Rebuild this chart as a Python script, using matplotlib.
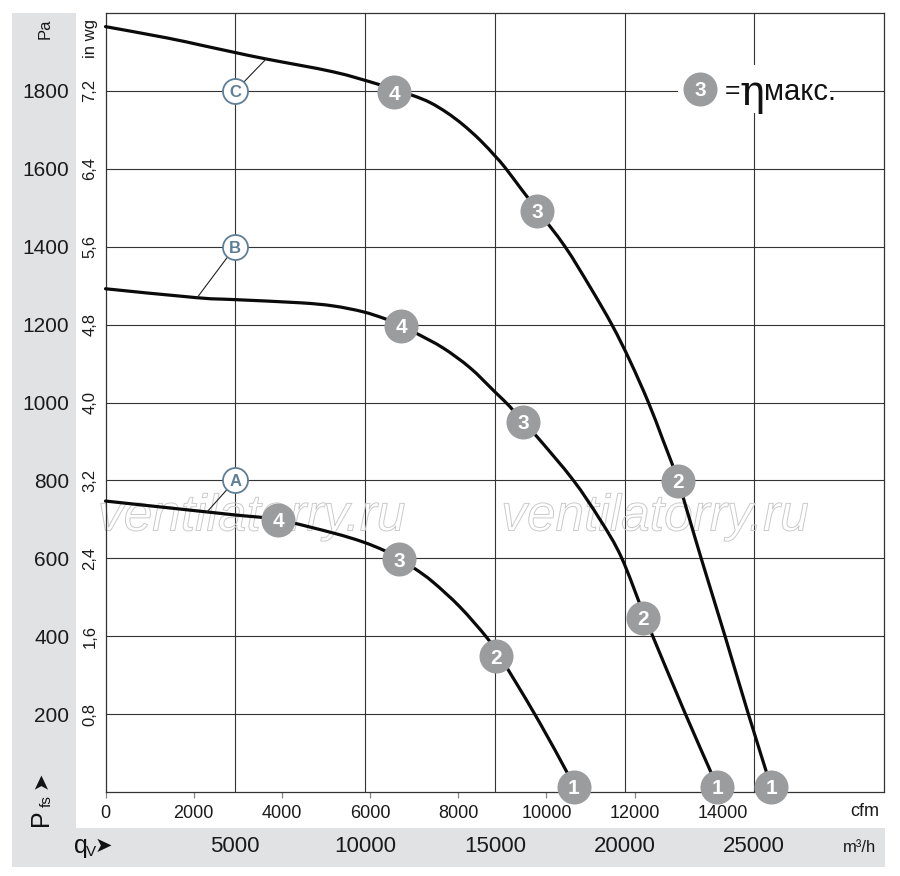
import matplotlib
matplotlib.use("Agg")
import matplotlib.pyplot as plt
from matplotlib.patches import Rectangle, PathPatch
from matplotlib.path import Path
from matplotlib.transforms import blended_transform_factory
import matplotlib.patheffects as pe

plt.rcParams['font.family'] = ['Liberation Sans Narrow', 'Liberation Sans', 'DejaVu Sans']

# ---------------- data (x in m3/h, y in Pa) ----------------
C_q = [0, 2370, 3640, 5030, 6190, 8770, 10460, 11810, 12510, 13160, 13780, 14430,
       15010, 15400, 16010, 16630, 17710, 18670, 19520, 20210, 20910, 21480, 22060,
       22950, 23870, 24760, 25650]
C_p = [1965, 1936, 1918, 1898, 1882, 1849, 1818, 1789, 1770, 1744, 1713, 1674,
       1633, 1603, 1549, 1495, 1400, 1297, 1199, 1107, 1002, 904, 799,
       601, 401, 203, 13]

B_q = [0, 3530, 5030, 7500, 8770, 9920, 10770, 11470, 12000, 13010, 14050, 15010,
       15590, 16090, 16630, 18020, 19060, 19870, 20710, 21020, 22330, 23330, 23570]
B_p = [1292, 1269, 1264, 1256, 1248, 1233, 1215, 1196, 1177, 1140, 1089, 1027,
       989, 950, 912, 801, 699, 604, 462, 411, 203, 51, 13]

A_q = [0, 3910, 5030, 6650, 8770, 9920, 10770, 11310, 11930, 12620, 13660, 14700,
       15200, 15780, 16740, 17780, 18050]
A_p = [747, 719, 711, 699, 665, 642, 619, 598, 573, 539, 475, 396,
       347, 285, 177, 51, 13]

# operating points 4,3,2,1 on each curve
op_labels = ['4', '3', '2', '1']
C_op_q = [11120, 16630, 22060, 25650]
C_op_p = [1797, 1492, 799, 13]
B_op_q = [11400, 16090, 20710, 23570]
B_op_p = [1197, 950, 447, 13]
A_op_q = [6650, 11310, 15050, 18050]
A_op_p = [699, 598, 349, 13]

# curve letter markers and leader-line targets
curve_names = ['A', 'B', 'C']
letter_q = [5000, 5000, 5000]
letter_p = [800, 1400, 1800]
leader_q = [3910, 3530, 6190]
leader_p = [719, 1269, 1882]

pa_ticks = [200, 400, 600, 800, 1000, 1200, 1400, 1600, 1800]
inwg_labels = ['0,8', '1,6', '2,4', '3,2', '4,0', '4,8', '5,6', '6,4', '7,2']
cfm_ticks = [0, 2000, 4000, 6000, 8000, 10000, 12000, 14000]
m3h_ticks = [5000, 10000, 15000, 20000, 25000]
CFM_TO_M3H = 1.69901

legend_q, legend_p = 22910, 1805

# ---------------- figure ----------------
W, H = 900, 876
fig = plt.figure(figsize=(W / 100, H / 100), dpi=100)


def fx(px):
    return px / W


def fy(py):
    return 1 - py / H


gray = '#e1e2e4'
fig.patches.append(Rectangle((fx(12), fy(867)), fx(76) - fx(12), (867 - 13) / H,
                             transform=fig.transFigure, facecolor=gray, edgecolor='none', zorder=-5))
fig.patches.append(Rectangle((fx(12), fy(867)), fx(885) - fx(12), (867 - 828) / H,
                             transform=fig.transFigure, facecolor=gray, edgecolor='none', zorder=-5))

ax_l, ax_r, ax_t, ax_b = 105.5, 884, 13, 792
ax = fig.add_axes([fx(ax_l), fy(ax_b), (ax_r - ax_l) / W, (ax_b - ax_t) / H])
ax.set_xlim(0, 30000)
ax.set_ylim(0, 2000)
for s in ax.spines.values():
    s.set_color('#333333')
    s.set_linewidth(0.9)

ax.set_yticks(pa_ticks)
ax.set_yticklabels([str(v) for v in pa_ticks], fontsize=15, color='#1a1a1a')
ax.tick_params(axis='y', length=0, pad=26)

ax.set_xticks([c * CFM_TO_M3H for c in cfm_ticks])
ax.set_xticklabels([str(c) for c in cfm_ticks], fontsize=13, color='#1a1a1a')
ax.tick_params(axis='x', which='major', length=4.5, width=0.9, color='#888888', pad=5)
ax.set_xticks(m3h_ticks, minor=True)
ax.tick_params(axis='x', which='minor', length=0)

ax.set_axisbelow(True)
ax.grid(axis='y', which='major', color='#333333', linewidth=0.8)
ax.grid(axis='x', which='minor', color='#333333', linewidth=0.8)

# in wg labels
tr_ay = blended_transform_factory(ax.transAxes, ax.transData)
x_inwg = (90 - ax_l) / (ax_r - ax_l)
for v, lab in zip(pa_ticks, inwg_labels):
    ax.text(x_inwg, v, lab, rotation=90, ha='center', va='center', fontsize=12,
            color='#1a1a1a', transform=tr_ay, clip_on=False)

fig.text(fx(45), fy(29), 'Pa', rotation=90, ha='center', va='center', fontsize=12, color='#1a1a1a')
fig.text(fx(90), fy(39), 'in wg', rotation=90, ha='center', va='center', fontsize=12, color='#1a1a1a')

# m3/h labels in bottom band
tr_xf = blended_transform_factory(ax.transData, fig.transFigure)
for v in m3h_ticks:
    ax.text(v, fy(847), str(v), ha='center', va='center', fontsize=16, color='#1a1a1a',
            transform=tr_xf, clip_on=False)
fig.text(fx(865), fy(812), 'cfm', ha='center', va='center', fontsize=13, color='#1a1a1a')
fig.text(fx(860), fy(847), 'm³/h', ha='center', va='center', fontsize=12, color='#1a1a1a')

# q_V arrow label
fig.text(fx(74), fy(846), 'q', ha='left', va='center', fontsize=18, color='#111111')
fig.text(fx(86), fy(852), 'V', ha='left', va='center', fontsize=11, color='#111111')
fig.text(fx(95), fy(846), '➤', ha='left', va='center', fontsize=15, color='#111111',
         family='DejaVu Sans')
# P_fs arrow label
fig.text(fx(41), fy(818), 'P', rotation=90, ha='center', va='center', fontsize=18, color='#111111')
fig.text(fx(47), fy(801), 'fs', rotation=90, ha='center', va='center', fontsize=11, color='#111111')
fig.text(fx(41), fy(780), '➤', rotation=90, ha='center', va='center', fontsize=15, color='#111111',
         family='DejaVu Sans')

# watermark (outlined)
for xf in [0.188, 0.706]:
    ax.text(xf, 0.353, 'ventilatorry.ru', transform=ax.transAxes, ha='center', va='center',
            fontsize=37, style='italic', family=['Liberation Sans', 'DejaVu Sans'],
            color=(1, 1, 1, 0), zorder=1.2,
            path_effects=[pe.Stroke(linewidth=0.7, foreground='#cacaca')])


def smooth_path(xs, ys):
    """Catmull-Rom curve through the given points, as cubic Bezier segments."""
    pts = list(zip(xs, ys))
    n = len(pts)
    verts = [pts[0]]
    codes = [Path.MOVETO]
    for i in range(n - 1):
        p0 = pts[i - 1] if i > 0 else pts[i]
        p1 = pts[i]
        p2 = pts[i + 1]
        p3 = pts[i + 2] if i + 2 < n else pts[i + 1]
        c1 = (p1[0] + (p2[0] - p0[0]) / 6.0, p1[1] + (p2[1] - p0[1]) / 6.0)
        c2 = (p2[0] - (p3[0] - p1[0]) / 6.0, p2[1] - (p3[1] - p1[1]) / 6.0)
        verts += [c1, c2, p2]
        codes += [Path.CURVE4, Path.CURVE4, Path.CURVE4]
    return Path(verts, codes)


# curves
for q, p in [(A_q, A_p), (B_q, B_p), (C_q, C_p)]:
    patch = PathPatch(smooth_path(q, p), facecolor='none', edgecolor='#0a0a0a',
                      linewidth=2.3, capstyle='round', joinstyle='round', zorder=3,
                      transform=ax.transData)
    patch.set_clip_on(False)
    ax.add_patch(patch)

# leader lines + letter circles
for name, lq, lp, tq, tp in zip(curve_names, letter_q, letter_p, leader_q, leader_p):
    ax.plot([lq, tq], [lp, tp], color='#222222', linewidth=0.8, zorder=3)
    ax.plot([lq], [lp], marker='o', markersize=18, markerfacecolor='white',
            markeredgecolor='#5e7f98', markeredgewidth=1.3, zorder=4, linestyle='none')
    ax.text(lq, lp, name, ha='center', va='center_baseline', fontsize=12, fontweight='bold',
            color='#5e7f98', zorder=5)

# operating point bubbles
bubble_col = '#9b9c9e'
for oq, op in [(A_op_q, A_op_p), (B_op_q, B_op_p), (C_op_q, C_op_p)]:
    ax.plot(oq, op, marker='o', markersize=24.5, markerfacecolor=bubble_col,
            markeredgecolor='none', linestyle='none', zorder=6, clip_on=False)
    for lab, q, p in zip(op_labels, oq, op):
        ax.text(q, p, lab, ha='center', va='center_baseline', fontsize=15, fontweight='bold',
                color='white', zorder=7, clip_on=False)

# legend "3 = eta max"
ax.add_patch(Rectangle((22060, 1744), 27920 - 22060, 1867 - 1744, facecolor='white',
                       edgecolor='none', zorder=1.5))
ax.plot([legend_q], [legend_p], marker='o', markersize=24.5, markerfacecolor=bubble_col,
        markeredgecolor='none', linestyle='none', zorder=6)
ax.text(legend_q, legend_p, '3', ha='center', va='center_baseline', fontsize=15,
        fontweight='bold', color='white', zorder=7)
tr_pix = blended_transform_factory(fig.transFigure, ax.transData)
ax.text(fx(725), legend_p, '=', transform=tr_pix, ha='left', va='center_baseline',
        fontsize=19, color='#111111', zorder=7)
ax.text(fx(739), legend_p, 'η', transform=tr_pix, ha='left', va='center_baseline',
        fontsize=30, color='#111111', zorder=7, family=['DejaVu Serif'])
ax.text(fx(764), legend_p, 'макс.', transform=tr_pix, ha='left', va='center_baseline',
        fontsize=21, color='#111111', zorder=7)

fig.savefig('out.png', dpi=100)
